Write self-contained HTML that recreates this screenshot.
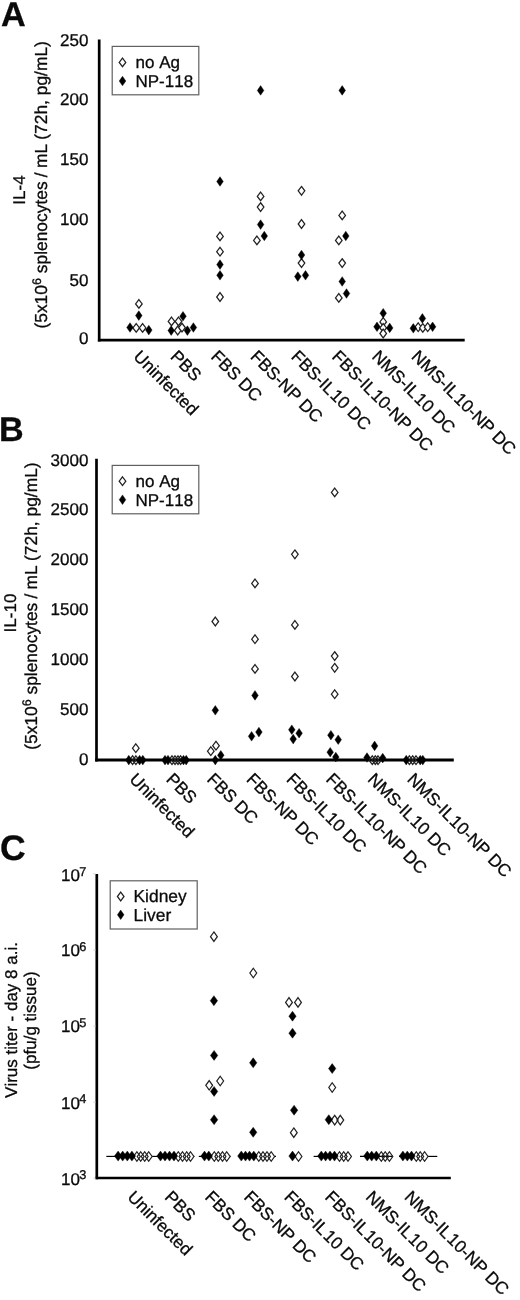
<!DOCTYPE html>
<html><head><meta charset="utf-8"><title>Figure</title>
<style>
html,body{margin:0;padding:0;background:#fff;}
body{width:520px;height:1300px;overflow:hidden;}
svg{display:block;font-family:"Liberation Sans", sans-serif;fill:#111;will-change:transform;text-rendering:geometricPrecision;}
text{font-kerning:none;fill:#0a0a0a;stroke:#0a0a0a;stroke-width:0.3px;stroke-linejoin:round;}
</style></head><body>
<svg width="520" height="1300" viewBox="0 0 520 1300">
<rect width="520" height="1300" fill="#fff"/>
<text transform="translate(0.90,26.00) scale(1.0,1)" font-size="34.2" text-anchor="start" font-weight="bold" >A</text>
<line x1="99.2" y1="39.4" x2="99.2" y2="341.5" stroke="#000" stroke-width="2.7"/>
<line x1="97.9" y1="340.2" x2="464.7" y2="340.2" stroke="#000" stroke-width="2.7"/>
<text transform="translate(88.40,45.60) scale(1.0,1)" font-size="17.0" text-anchor="end" font-weight="normal" >250</text>
<text transform="translate(88.40,105.00) scale(1.0,1)" font-size="17.0" text-anchor="end" font-weight="normal" >200</text>
<text transform="translate(88.40,165.10) scale(1.0,1)" font-size="17.0" text-anchor="end" font-weight="normal" >150</text>
<text transform="translate(88.40,225.10) scale(1.0,1)" font-size="17.0" text-anchor="end" font-weight="normal" >100</text>
<text transform="translate(88.40,285.60) scale(1.0,1)" font-size="17.0" text-anchor="end" font-weight="normal" >50</text>
<text transform="translate(88.40,344.40) scale(1.0,1)" font-size="17.0" text-anchor="end" font-weight="normal" >0</text>
<rect x="112.2" y="46.4" width="86.6" height="48.4" fill="#fff" stroke="#606060" stroke-width="1.2"/>
<polygon points="122.50,58.05 125.80,62.40 122.50,66.75 119.20,62.40" fill="#fff" stroke="#222" stroke-width="1.25"/>
<polygon points="122.50,76.20 125.80,81.00 122.50,85.80 119.20,81.00" fill="#000" stroke="#000" stroke-width="0.4"/>
<text transform="translate(135.50,67.80) scale(1.0,1)" font-size="17.0" text-anchor="start" font-weight="normal" >no Ag</text>
<text transform="translate(135.50,87.10) scale(1.0,1)" font-size="17.0" text-anchor="start" font-weight="normal" >NP-118</text>
<polygon points="138.90,299.55 142.20,303.90 138.90,308.25 135.60,303.90" fill="#fff" stroke="#222" stroke-width="1.25"/>
<polygon points="136.20,323.55 139.50,327.90 136.20,332.25 132.90,327.90" fill="#fff" stroke="#222" stroke-width="1.25"/>
<polygon points="142.60,323.55 145.90,327.90 142.60,332.25 139.30,327.90" fill="#fff" stroke="#222" stroke-width="1.25"/>
<polygon points="171.50,317.05 174.80,321.40 171.50,325.75 168.20,321.40" fill="#fff" stroke="#222" stroke-width="1.25"/>
<polygon points="178.50,317.05 181.80,321.40 178.50,325.75 175.20,321.40" fill="#fff" stroke="#222" stroke-width="1.25"/>
<polygon points="177.70,326.15 181.00,330.50 177.70,334.85 174.40,330.50" fill="#fff" stroke="#222" stroke-width="1.25"/>
<polygon points="182.00,323.25 185.30,327.60 182.00,331.95 178.70,327.60" fill="#fff" stroke="#222" stroke-width="1.25"/>
<polygon points="220.00,232.05 223.30,236.40 220.00,240.75 216.70,236.40" fill="#fff" stroke="#222" stroke-width="1.25"/>
<polygon points="220.00,247.35 223.30,251.70 220.00,256.05 216.70,251.70" fill="#fff" stroke="#222" stroke-width="1.25"/>
<polygon points="220.00,292.65 223.30,297.00 220.00,301.35 216.70,297.00" fill="#fff" stroke="#222" stroke-width="1.25"/>
<polygon points="260.60,192.05 263.90,196.40 260.60,200.75 257.30,196.40" fill="#fff" stroke="#222" stroke-width="1.25"/>
<polygon points="260.60,202.75 263.90,207.10 260.60,211.45 257.30,207.10" fill="#fff" stroke="#222" stroke-width="1.25"/>
<polygon points="256.90,236.05 260.20,240.40 256.90,244.75 253.60,240.40" fill="#fff" stroke="#222" stroke-width="1.25"/>
<polygon points="301.50,186.45 304.80,190.80 301.50,195.15 298.20,190.80" fill="#fff" stroke="#222" stroke-width="1.25"/>
<polygon points="301.50,219.65 304.80,224.00 301.50,228.35 298.20,224.00" fill="#fff" stroke="#222" stroke-width="1.25"/>
<polygon points="301.50,258.75 304.80,263.10 301.50,267.45 298.20,263.10" fill="#fff" stroke="#222" stroke-width="1.25"/>
<polygon points="342.20,211.05 345.50,215.40 342.20,219.75 338.90,215.40" fill="#fff" stroke="#222" stroke-width="1.25"/>
<polygon points="338.80,236.05 342.10,240.40 338.80,244.75 335.50,240.40" fill="#fff" stroke="#222" stroke-width="1.25"/>
<polygon points="342.20,258.75 345.50,263.10 342.20,267.45 338.90,263.10" fill="#fff" stroke="#222" stroke-width="1.25"/>
<polygon points="338.80,293.55 342.10,297.90 338.80,302.25 335.50,297.90" fill="#fff" stroke="#222" stroke-width="1.25"/>
<polygon points="383.20,317.55 386.50,321.90 383.20,326.25 379.90,321.90" fill="#fff" stroke="#222" stroke-width="1.25"/>
<polygon points="383.20,323.55 386.50,327.90 383.20,332.25 379.90,327.90" fill="#fff" stroke="#222" stroke-width="1.25"/>
<polygon points="383.20,329.15 386.50,333.50 383.20,337.85 379.90,333.50" fill="#fff" stroke="#222" stroke-width="1.25"/>
<polygon points="418.20,322.85 421.50,327.20 418.20,331.55 414.90,327.20" fill="#fff" stroke="#222" stroke-width="1.25"/>
<polygon points="422.80,323.55 426.10,327.90 422.80,332.25 419.50,327.90" fill="#fff" stroke="#222" stroke-width="1.25"/>
<polygon points="427.70,322.85 431.00,327.20 427.70,331.55 424.40,327.20" fill="#fff" stroke="#222" stroke-width="1.25"/>
<polygon points="138.80,310.80 142.10,315.60 138.80,320.40 135.50,315.60" fill="#000" stroke="#000" stroke-width="0.4"/>
<polygon points="130.00,322.70 133.30,327.50 130.00,332.30 126.70,327.50" fill="#000" stroke="#000" stroke-width="0.4"/>
<polygon points="148.80,325.30 152.10,330.10 148.80,334.90 145.50,330.10" fill="#000" stroke="#000" stroke-width="0.4"/>
<polygon points="183.00,311.50 186.30,316.30 183.00,321.10 179.70,316.30" fill="#000" stroke="#000" stroke-width="0.4"/>
<polygon points="171.20,325.80 174.50,330.60 171.20,335.40 167.90,330.60" fill="#000" stroke="#000" stroke-width="0.4"/>
<polygon points="187.40,325.80 190.70,330.60 187.40,335.40 184.10,330.60" fill="#000" stroke="#000" stroke-width="0.4"/>
<polygon points="193.40,322.70 196.70,327.50 193.40,332.30 190.10,327.50" fill="#000" stroke="#000" stroke-width="0.4"/>
<polygon points="220.00,176.70 223.30,181.50 220.00,186.30 216.70,181.50" fill="#000" stroke="#000" stroke-width="0.4"/>
<polygon points="220.00,259.80 223.30,264.60 220.00,269.40 216.70,264.60" fill="#000" stroke="#000" stroke-width="0.4"/>
<polygon points="220.00,270.50 223.30,275.30 220.00,280.10 216.70,275.30" fill="#000" stroke="#000" stroke-width="0.4"/>
<polygon points="260.60,85.60 263.90,90.40 260.60,95.20 257.30,90.40" fill="#000" stroke="#000" stroke-width="0.4"/>
<polygon points="260.60,219.80 263.90,224.60 260.60,229.40 257.30,224.60" fill="#000" stroke="#000" stroke-width="0.4"/>
<polygon points="264.30,231.20 267.60,236.00 264.30,240.80 261.00,236.00" fill="#000" stroke="#000" stroke-width="0.4"/>
<polygon points="301.50,250.20 304.80,255.00 301.50,259.80 298.20,255.00" fill="#000" stroke="#000" stroke-width="0.4"/>
<polygon points="297.80,271.80 301.10,276.60 297.80,281.40 294.50,276.60" fill="#000" stroke="#000" stroke-width="0.4"/>
<polygon points="305.50,270.50 308.80,275.30 305.50,280.10 302.20,275.30" fill="#000" stroke="#000" stroke-width="0.4"/>
<polygon points="342.20,85.60 345.50,90.40 342.20,95.20 338.90,90.40" fill="#000" stroke="#000" stroke-width="0.4"/>
<polygon points="345.80,231.20 349.10,236.00 345.80,240.80 342.50,236.00" fill="#000" stroke="#000" stroke-width="0.4"/>
<polygon points="342.20,276.70 345.50,281.50 342.20,286.30 338.90,281.50" fill="#000" stroke="#000" stroke-width="0.4"/>
<polygon points="346.50,288.70 349.80,293.50 346.50,298.30 343.20,293.50" fill="#000" stroke="#000" stroke-width="0.4"/>
<polygon points="383.20,308.40 386.50,313.20 383.20,318.00 379.90,313.20" fill="#000" stroke="#000" stroke-width="0.4"/>
<polygon points="377.00,322.00 380.30,326.80 377.00,331.60 373.70,326.80" fill="#000" stroke="#000" stroke-width="0.4"/>
<polygon points="389.70,323.10 393.00,327.90 389.70,332.70 386.40,327.90" fill="#000" stroke="#000" stroke-width="0.4"/>
<polygon points="422.40,313.60 425.70,318.40 422.40,323.20 419.10,318.40" fill="#000" stroke="#000" stroke-width="0.4"/>
<polygon points="413.30,323.50 416.60,328.30 413.30,333.10 410.00,328.30" fill="#000" stroke="#000" stroke-width="0.4"/>
<polygon points="432.60,322.00 435.90,326.80 432.60,331.60 429.30,326.80" fill="#000" stroke="#000" stroke-width="0.4"/>
<text transform="translate(132.60,357.60) rotate(45) scale(1.0,1)" font-size="17.35" text-anchor="start" font-weight="normal" >Uninfected</text>
<text transform="translate(169.60,357.60) rotate(45) scale(1.0,1)" font-size="17.35" text-anchor="start" font-weight="normal" >PBS</text>
<text transform="translate(210.00,357.60) rotate(45) scale(1.0,1)" font-size="17.35" text-anchor="start" font-weight="normal" >FBS DC</text>
<text transform="translate(249.40,357.60) rotate(45) scale(1.0,1)" font-size="17.35" text-anchor="start" font-weight="normal" >FBS-NP DC</text>
<text transform="translate(290.20,357.60) rotate(45) scale(1.0,1)" font-size="17.35" text-anchor="start" font-weight="normal" >FBS-IL<tspan dx="1.1">10</tspan> DC</text>
<text transform="translate(331.00,357.60) rotate(45) scale(1.0,1)" font-size="17.35" text-anchor="start" font-weight="normal" >FBS-IL<tspan dx="1.1">10</tspan>-NP DC</text>
<text transform="translate(371.00,357.60) rotate(45) scale(1.0,1)" font-size="17.35" text-anchor="start" font-weight="normal" >NMS-IL<tspan dx="1.1">10</tspan> DC</text>
<text transform="translate(410.60,357.60) rotate(45) scale(1.0,1)" font-size="17.35" text-anchor="start" font-weight="normal" >NMS-IL<tspan dx="1.1">10</tspan>-NP DC</text>
<text transform="translate(25.40,190.00) rotate(-90) scale(1.0,1)" font-size="17.0" text-anchor="middle" font-weight="normal" >IL-4</text>
<text transform="translate(47.20,41.10) rotate(-90) scale(1.0,1)" font-size="17.4" text-anchor="end" font-weight="normal" >(5x10<tspan font-size="12.5" dy="-6">6</tspan><tspan dy="6"> splenocytes</tspan><tspan dx="-0.6"> /</tspan><tspan dx="-0.6"> mL</tspan><tspan dx="-0.6"> (72h, pg/mL)</tspan></text>
<text transform="translate(-1.00,441.20) scale(1.0,1)" font-size="34.2" text-anchor="start" font-weight="bold" >B</text>
<line x1="96.5" y1="458.8" x2="96.5" y2="761.5" stroke="#000" stroke-width="2.7"/>
<line x1="95.2" y1="760" x2="453.8" y2="760" stroke="#000" stroke-width="3"/>
<text transform="translate(88.40,465.70) scale(1.0,1)" font-size="17.0" text-anchor="end" font-weight="normal" >3000</text>
<text transform="translate(88.40,515.10) scale(1.0,1)" font-size="17.0" text-anchor="end" font-weight="normal" >2500</text>
<text transform="translate(88.40,565.10) scale(1.0,1)" font-size="17.0" text-anchor="end" font-weight="normal" >2000</text>
<text transform="translate(88.40,615.10) scale(1.0,1)" font-size="17.0" text-anchor="end" font-weight="normal" >1500</text>
<text transform="translate(88.40,665.10) scale(1.0,1)" font-size="17.0" text-anchor="end" font-weight="normal" >1000</text>
<text transform="translate(88.40,715.10) scale(1.0,1)" font-size="17.0" text-anchor="end" font-weight="normal" >500</text>
<text transform="translate(88.40,765.10) scale(1.0,1)" font-size="17.0" text-anchor="end" font-weight="normal" >0</text>
<rect x="112.2" y="465.4" width="86.6" height="48.4" fill="#fff" stroke="#606060" stroke-width="1.2"/>
<polygon points="122.50,476.85 125.80,481.20 122.50,485.55 119.20,481.20" fill="#fff" stroke="#222" stroke-width="1.25"/>
<polygon points="122.50,494.90 125.80,499.70 122.50,504.50 119.20,499.70" fill="#000" stroke="#000" stroke-width="0.4"/>
<text transform="translate(135.50,486.60) scale(1.0,1)" font-size="17.0" text-anchor="start" font-weight="normal" >no Ag</text>
<text transform="translate(135.50,505.80) scale(1.0,1)" font-size="17.0" text-anchor="start" font-weight="normal" >NP-118</text>
<polygon points="135.80,743.85 139.10,748.20 135.80,752.55 132.50,748.20" fill="none" stroke="#222" stroke-width="1.25"/>
<polygon points="132.60,755.85 135.90,760.20 132.60,764.55 129.30,760.20" fill="none" stroke="#222" stroke-width="1.25"/>
<polygon points="135.90,755.85 139.20,760.20 135.90,764.55 132.60,760.20" fill="none" stroke="#222" stroke-width="1.25"/>
<polygon points="172.00,755.85 175.30,760.20 172.00,764.55 168.70,760.20" fill="none" stroke="#222" stroke-width="1.25"/>
<polygon points="175.00,755.85 178.30,760.20 175.00,764.55 171.70,760.20" fill="none" stroke="#222" stroke-width="1.25"/>
<polygon points="178.00,755.85 181.30,760.20 178.00,764.55 174.70,760.20" fill="none" stroke="#222" stroke-width="1.25"/>
<polygon points="180.60,755.85 183.90,760.20 180.60,764.55 177.30,760.20" fill="none" stroke="#222" stroke-width="1.25"/>
<polygon points="215.30,617.15 218.60,621.50 215.30,625.85 212.00,621.50" fill="none" stroke="#222" stroke-width="1.25"/>
<polygon points="210.80,746.85 214.10,751.20 210.80,755.55 207.50,751.20" fill="none" stroke="#222" stroke-width="1.25"/>
<polygon points="216.00,741.35 219.30,745.70 216.00,750.05 212.70,745.70" fill="none" stroke="#222" stroke-width="1.25"/>
<polygon points="255.00,579.05 258.30,583.40 255.00,587.75 251.70,583.40" fill="none" stroke="#222" stroke-width="1.25"/>
<polygon points="255.00,634.85 258.30,639.20 255.00,643.55 251.70,639.20" fill="none" stroke="#222" stroke-width="1.25"/>
<polygon points="255.00,664.55 258.30,668.90 255.00,673.25 251.70,668.90" fill="none" stroke="#222" stroke-width="1.25"/>
<polygon points="294.90,549.95 298.20,554.30 294.90,558.65 291.60,554.30" fill="none" stroke="#222" stroke-width="1.25"/>
<polygon points="294.90,620.55 298.20,624.90 294.90,629.25 291.60,624.90" fill="none" stroke="#222" stroke-width="1.25"/>
<polygon points="294.90,672.15 298.20,676.50 294.90,680.85 291.60,676.50" fill="none" stroke="#222" stroke-width="1.25"/>
<polygon points="334.70,488.05 338.00,492.40 334.70,496.75 331.40,492.40" fill="none" stroke="#222" stroke-width="1.25"/>
<polygon points="334.70,651.75 338.00,656.10 334.70,660.45 331.40,656.10" fill="none" stroke="#222" stroke-width="1.25"/>
<polygon points="334.70,663.45 338.00,667.80 334.70,672.15 331.40,667.80" fill="none" stroke="#222" stroke-width="1.25"/>
<polygon points="334.70,689.85 338.00,694.20 334.70,698.55 331.40,694.20" fill="none" stroke="#222" stroke-width="1.25"/>
<polygon points="372.30,755.85 375.60,760.20 372.30,764.55 369.00,760.20" fill="none" stroke="#222" stroke-width="1.25"/>
<polygon points="375.30,755.85 378.60,760.20 375.30,764.55 372.00,760.20" fill="none" stroke="#222" stroke-width="1.25"/>
<polygon points="378.00,755.85 381.30,760.20 378.00,764.55 374.70,760.20" fill="none" stroke="#222" stroke-width="1.25"/>
<polygon points="409.40,755.85 412.70,760.20 409.40,764.55 406.10,760.20" fill="none" stroke="#222" stroke-width="1.25"/>
<polygon points="412.70,755.85 416.00,760.20 412.70,764.55 409.40,760.20" fill="none" stroke="#222" stroke-width="1.25"/>
<polygon points="416.00,755.85 419.30,760.20 416.00,764.55 412.70,760.20" fill="none" stroke="#222" stroke-width="1.25"/>
<polygon points="128.80,755.30 132.10,760.10 128.80,764.90 125.50,760.10" fill="#000" stroke="#000" stroke-width="0.4"/>
<polygon points="139.60,755.30 142.90,760.10 139.60,764.90 136.30,760.10" fill="#000" stroke="#000" stroke-width="0.4"/>
<polygon points="142.80,755.30 146.10,760.10 142.80,764.90 139.50,760.10" fill="#000" stroke="#000" stroke-width="0.4"/>
<polygon points="165.00,755.30 168.30,760.10 165.00,764.90 161.70,760.10" fill="#000" stroke="#000" stroke-width="0.4"/>
<polygon points="168.00,755.30 171.30,760.10 168.00,764.90 164.70,760.10" fill="#000" stroke="#000" stroke-width="0.4"/>
<polygon points="183.50,755.30 186.80,760.10 183.50,764.90 180.20,760.10" fill="#000" stroke="#000" stroke-width="0.4"/>
<polygon points="186.20,755.30 189.50,760.10 186.20,764.90 182.90,760.10" fill="#000" stroke="#000" stroke-width="0.4"/>
<polygon points="215.30,705.50 218.60,710.30 215.30,715.10 212.00,710.30" fill="#000" stroke="#000" stroke-width="0.4"/>
<polygon points="220.80,750.50 224.10,755.30 220.80,760.10 217.50,755.30" fill="#000" stroke="#000" stroke-width="0.4"/>
<polygon points="215.30,755.30 218.60,760.10 215.30,764.90 212.00,760.10" fill="#000" stroke="#000" stroke-width="0.4"/>
<polygon points="255.00,690.60 258.30,695.40 255.00,700.20 251.70,695.40" fill="#000" stroke="#000" stroke-width="0.4"/>
<polygon points="251.60,731.50 254.90,736.30 251.60,741.10 248.30,736.30" fill="#000" stroke="#000" stroke-width="0.4"/>
<polygon points="258.90,727.30 262.20,732.10 258.90,736.90 255.60,732.10" fill="#000" stroke="#000" stroke-width="0.4"/>
<polygon points="291.80,724.90 295.10,729.70 291.80,734.50 288.50,729.70" fill="#000" stroke="#000" stroke-width="0.4"/>
<polygon points="299.10,728.40 302.40,733.20 299.10,738.00 295.80,733.20" fill="#000" stroke="#000" stroke-width="0.4"/>
<polygon points="293.20,734.30 296.50,739.10 293.20,743.90 289.90,739.10" fill="#000" stroke="#000" stroke-width="0.4"/>
<polygon points="330.90,730.40 334.20,735.20 330.90,740.00 327.60,735.20" fill="#000" stroke="#000" stroke-width="0.4"/>
<polygon points="338.20,734.90 341.50,739.70 338.20,744.50 334.90,739.70" fill="#000" stroke="#000" stroke-width="0.4"/>
<polygon points="330.20,747.40 333.50,752.20 330.20,757.00 326.90,752.20" fill="#000" stroke="#000" stroke-width="0.4"/>
<polygon points="335.80,752.30 339.10,757.10 335.80,761.90 332.50,757.10" fill="#000" stroke="#000" stroke-width="0.4"/>
<polygon points="374.60,741.10 377.90,745.90 374.60,750.70 371.30,745.90" fill="#000" stroke="#000" stroke-width="0.4"/>
<polygon points="367.00,752.70 370.30,757.50 367.00,762.30 363.70,757.50" fill="#000" stroke="#000" stroke-width="0.4"/>
<polygon points="382.70,753.30 386.00,758.10 382.70,762.90 379.40,758.10" fill="#000" stroke="#000" stroke-width="0.4"/>
<polygon points="406.20,755.30 409.50,760.10 406.20,764.90 402.90,760.10" fill="#000" stroke="#000" stroke-width="0.4"/>
<polygon points="420.20,755.30 423.50,760.10 420.20,764.90 416.90,760.10" fill="#000" stroke="#000" stroke-width="0.4"/>
<polygon points="422.80,755.30 426.10,760.10 422.80,764.90 419.50,760.10" fill="#000" stroke="#000" stroke-width="0.4"/>
<text transform="translate(128.60,780.20) rotate(45) scale(1.0,1)" font-size="17.35" text-anchor="start" font-weight="normal" >Uninfected</text>
<text transform="translate(165.20,780.20) rotate(45) scale(1.0,1)" font-size="17.35" text-anchor="start" font-weight="normal" >PBS</text>
<text transform="translate(206.00,780.20) rotate(45) scale(1.0,1)" font-size="17.35" text-anchor="start" font-weight="normal" >FBS DC</text>
<text transform="translate(245.60,780.20) rotate(45) scale(1.0,1)" font-size="17.35" text-anchor="start" font-weight="normal" >FBS-NP DC</text>
<text transform="translate(285.60,780.20) rotate(45) scale(1.0,1)" font-size="17.35" text-anchor="start" font-weight="normal" >FBS-IL<tspan dx="1.1">10</tspan> DC</text>
<text transform="translate(325.00,780.20) rotate(45) scale(1.0,1)" font-size="17.35" text-anchor="start" font-weight="normal" >FBS-IL<tspan dx="1.1">10</tspan>-NP DC</text>
<text transform="translate(366.80,780.20) rotate(45) scale(1.0,1)" font-size="17.35" text-anchor="start" font-weight="normal" >NMS-IL<tspan dx="1.1">10</tspan> DC</text>
<text transform="translate(406.20,780.20) rotate(45) scale(1.0,1)" font-size="17.35" text-anchor="start" font-weight="normal" >NMS-IL<tspan dx="1.1">10</tspan>-NP DC</text>
<text transform="translate(16.30,613.00) rotate(-90) scale(1.0,1)" font-size="17.0" text-anchor="middle" font-weight="normal" >IL-10</text>
<text transform="translate(37.40,462.40) rotate(-90) scale(1.0,1)" font-size="17.4" text-anchor="end" font-weight="normal" >(5x10<tspan font-size="12.5" dy="-6">6</tspan><tspan dy="6"> splenocytes</tspan><tspan dx="-0.6"> /</tspan><tspan dx="-0.6"> mL</tspan><tspan dx="-0.6"> (72h, pg/mL)</tspan></text>
<text transform="translate(0.10,859.80) scale(1.0,1)" font-size="35.5" text-anchor="start" font-weight="bold" >C</text>
<line x1="96.8" y1="874" x2="96.8" y2="1179.3" stroke="#000" stroke-width="2.7"/>
<line x1="95.5" y1="1178" x2="450.8" y2="1178" stroke="#000" stroke-width="2.7"/>
<text transform="translate(79.90,881.30) scale(1.0,1)" font-size="17.0" text-anchor="end" font-weight="normal" >10</text>
<text transform="translate(79.20,875.70) scale(1.0,1)" font-size="12.8" text-anchor="start" font-weight="normal" >7</text>
<line x1="93.5" y1="873.9" x2="95.6" y2="873.9" stroke="#ccc" stroke-width="1"/>
<text transform="translate(79.90,956.30) scale(1.0,1)" font-size="17.0" text-anchor="end" font-weight="normal" >10</text>
<text transform="translate(79.20,950.70) scale(1.0,1)" font-size="12.8" text-anchor="start" font-weight="normal" >6</text>
<line x1="93.5" y1="950.0" x2="95.6" y2="950.0" stroke="#ccc" stroke-width="1"/>
<text transform="translate(79.90,1032.40) scale(1.0,1)" font-size="17.0" text-anchor="end" font-weight="normal" >10</text>
<text transform="translate(79.20,1026.80) scale(1.0,1)" font-size="12.8" text-anchor="start" font-weight="normal" >5</text>
<line x1="93.5" y1="1026.1" x2="95.6" y2="1026.1" stroke="#ccc" stroke-width="1"/>
<text transform="translate(79.90,1108.50) scale(1.0,1)" font-size="17.0" text-anchor="end" font-weight="normal" >10</text>
<text transform="translate(79.20,1102.90) scale(1.0,1)" font-size="12.8" text-anchor="start" font-weight="normal" >4</text>
<line x1="93.5" y1="1102.2" x2="95.6" y2="1102.2" stroke="#ccc" stroke-width="1"/>
<text transform="translate(79.90,1184.60) scale(1.0,1)" font-size="17.0" text-anchor="end" font-weight="normal" >10</text>
<text transform="translate(79.20,1179.00) scale(1.0,1)" font-size="12.8" text-anchor="start" font-weight="normal" >3</text>
<line x1="93.5" y1="1178.3" x2="95.6" y2="1178.3" stroke="#ccc" stroke-width="1"/>
<rect x="110.2" y="880.8" width="87" height="48.2" fill="#fff" stroke="#606060" stroke-width="1.2"/>
<polygon points="120.70,892.15 124.00,896.50 120.70,900.85 117.40,896.50" fill="#fff" stroke="#222" stroke-width="1.25"/>
<polygon points="120.70,910.00 124.00,914.80 120.70,919.60 117.40,914.80" fill="#000" stroke="#000" stroke-width="0.4"/>
<text transform="translate(133.50,901.90) scale(1.0,1)" font-size="17.4" text-anchor="start" font-weight="normal" >Kidney</text>
<text transform="translate(133.50,920.90) scale(1.0,1)" font-size="17.4" text-anchor="start" font-weight="normal" >Liver</text>
<line x1="106.3" y1="1156.3999999999999" x2="134" y2="1156.3999999999999" stroke="#000" stroke-width="1.15"/>
<line x1="152" y1="1156.3999999999999" x2="160" y2="1156.3999999999999" stroke="#000" stroke-width="1.15"/>
<line x1="193.8" y1="1156.3999999999999" x2="194.3" y2="1156.3999999999999" stroke="#000" stroke-width="1.15"/>
<line x1="198.8" y1="1156.3999999999999" x2="206" y2="1156.3999999999999" stroke="#000" stroke-width="1.15"/>
<line x1="230" y1="1156.3999999999999" x2="230.6" y2="1156.3999999999999" stroke="#000" stroke-width="1.15"/>
<line x1="274.5" y1="1156.3999999999999" x2="276" y2="1156.3999999999999" stroke="#000" stroke-width="1.15"/>
<line x1="313.6" y1="1156.3999999999999" x2="323" y2="1156.3999999999999" stroke="#000" stroke-width="1.15"/>
<line x1="351.3" y1="1156.3999999999999" x2="351.6" y2="1156.3999999999999" stroke="#000" stroke-width="1.15"/>
<line x1="360" y1="1156.3999999999999" x2="393" y2="1156.3999999999999" stroke="#000" stroke-width="1.15"/>
<line x1="399" y1="1156.3999999999999" x2="404" y2="1156.3999999999999" stroke="#000" stroke-width="1.15"/>
<line x1="428" y1="1156.3999999999999" x2="437.3" y2="1156.3999999999999" stroke="#000" stroke-width="1.15"/>
<polygon points="136.90,1151.75 140.30,1156.50 136.90,1161.25 133.50,1156.50" fill="none" stroke="#222" stroke-width="1.25"/>
<polygon points="140.70,1151.75 144.10,1156.50 140.70,1161.25 137.30,1156.50" fill="none" stroke="#222" stroke-width="1.25"/>
<polygon points="144.70,1151.75 148.10,1156.50 144.70,1161.25 141.30,1156.50" fill="none" stroke="#222" stroke-width="1.25"/>
<polygon points="148.70,1151.75 152.10,1156.50 148.70,1161.25 145.30,1156.50" fill="none" stroke="#222" stroke-width="1.25"/>
<polygon points="178.30,1151.75 181.70,1156.50 178.30,1161.25 174.90,1156.50" fill="none" stroke="#222" stroke-width="1.25"/>
<polygon points="182.50,1151.75 185.90,1156.50 182.50,1161.25 179.10,1156.50" fill="none" stroke="#222" stroke-width="1.25"/>
<polygon points="186.70,1151.75 190.10,1156.50 186.70,1161.25 183.30,1156.50" fill="none" stroke="#222" stroke-width="1.25"/>
<polygon points="190.50,1151.75 193.90,1156.50 190.50,1161.25 187.10,1156.50" fill="none" stroke="#222" stroke-width="1.25"/>
<polygon points="214.30,1151.75 217.70,1156.50 214.30,1161.25 210.90,1156.50" fill="none" stroke="#222" stroke-width="1.25"/>
<polygon points="218.30,1151.75 221.70,1156.50 218.30,1161.25 214.90,1156.50" fill="none" stroke="#222" stroke-width="1.25"/>
<polygon points="222.50,1151.75 225.90,1156.50 222.50,1161.25 219.10,1156.50" fill="none" stroke="#222" stroke-width="1.25"/>
<polygon points="226.70,1151.75 230.10,1156.50 226.70,1161.25 223.30,1156.50" fill="none" stroke="#222" stroke-width="1.25"/>
<polygon points="258.80,1151.75 262.20,1156.50 258.80,1161.25 255.40,1156.50" fill="none" stroke="#222" stroke-width="1.25"/>
<polygon points="263.00,1151.75 266.40,1156.50 263.00,1161.25 259.60,1156.50" fill="none" stroke="#222" stroke-width="1.25"/>
<polygon points="267.00,1151.75 270.40,1156.50 267.00,1161.25 263.60,1156.50" fill="none" stroke="#222" stroke-width="1.25"/>
<polygon points="271.20,1151.75 274.60,1156.50 271.20,1161.25 267.80,1156.50" fill="none" stroke="#222" stroke-width="1.25"/>
<polygon points="298.50,1151.75 301.90,1156.50 298.50,1161.25 295.10,1156.50" fill="none" stroke="#222" stroke-width="1.25"/>
<polygon points="339.50,1151.75 342.90,1156.50 339.50,1161.25 336.10,1156.50" fill="none" stroke="#222" stroke-width="1.25"/>
<polygon points="343.70,1151.75 347.10,1156.50 343.70,1161.25 340.30,1156.50" fill="none" stroke="#222" stroke-width="1.25"/>
<polygon points="348.00,1151.75 351.40,1156.50 348.00,1161.25 344.60,1156.50" fill="none" stroke="#222" stroke-width="1.25"/>
<polygon points="381.30,1151.75 384.70,1156.50 381.30,1161.25 377.90,1156.50" fill="none" stroke="#222" stroke-width="1.25"/>
<polygon points="385.20,1151.75 388.60,1156.50 385.20,1161.25 381.80,1156.50" fill="none" stroke="#222" stroke-width="1.25"/>
<polygon points="389.40,1151.75 392.80,1156.50 389.40,1161.25 386.00,1156.50" fill="none" stroke="#222" stroke-width="1.25"/>
<polygon points="416.30,1151.75 419.70,1156.50 416.30,1161.25 412.90,1156.50" fill="none" stroke="#222" stroke-width="1.25"/>
<polygon points="420.20,1151.75 423.60,1156.50 420.20,1161.25 416.80,1156.50" fill="none" stroke="#222" stroke-width="1.25"/>
<polygon points="424.60,1151.75 428.00,1156.50 424.60,1161.25 421.20,1156.50" fill="none" stroke="#222" stroke-width="1.25"/>
<polygon points="213.90,931.95 217.30,936.70 213.90,941.45 210.50,936.70" fill="none" stroke="#222" stroke-width="1.25"/>
<polygon points="209.20,1080.55 212.60,1085.30 209.20,1090.05 205.80,1085.30" fill="none" stroke="#222" stroke-width="1.25"/>
<polygon points="220.20,1076.25 223.60,1081.00 220.20,1085.75 216.80,1081.00" fill="none" stroke="#222" stroke-width="1.25"/>
<polygon points="253.30,968.25 256.70,973.00 253.30,977.75 249.90,973.00" fill="none" stroke="#222" stroke-width="1.25"/>
<polygon points="289.00,997.65 292.40,1002.40 289.00,1007.15 285.60,1002.40" fill="none" stroke="#222" stroke-width="1.25"/>
<polygon points="298.00,997.65 301.40,1002.40 298.00,1007.15 294.60,1002.40" fill="none" stroke="#222" stroke-width="1.25"/>
<polygon points="293.80,1127.95 297.20,1132.70 293.80,1137.45 290.40,1132.70" fill="none" stroke="#222" stroke-width="1.25"/>
<polygon points="332.20,1082.75 335.60,1087.50 332.20,1092.25 328.80,1087.50" fill="none" stroke="#222" stroke-width="1.25"/>
<polygon points="334.70,1115.35 338.10,1120.10 334.70,1124.85 331.30,1120.10" fill="none" stroke="#222" stroke-width="1.25"/>
<polygon points="340.30,1115.35 343.70,1120.10 340.30,1124.85 336.90,1120.10" fill="none" stroke="#222" stroke-width="1.25"/>
<polygon points="118.10,1151.10 121.80,1156.10 118.10,1161.10 114.40,1156.10" fill="#000" stroke="#000" stroke-width="0.4"/>
<polygon points="122.70,1151.10 126.40,1156.10 122.70,1161.10 119.00,1156.10" fill="#000" stroke="#000" stroke-width="0.4"/>
<polygon points="127.30,1151.10 131.00,1156.10 127.30,1161.10 123.60,1156.10" fill="#000" stroke="#000" stroke-width="0.4"/>
<polygon points="131.90,1151.10 135.60,1156.10 131.90,1161.10 128.20,1156.10" fill="#000" stroke="#000" stroke-width="0.4"/>
<polygon points="160.50,1151.10 164.20,1156.10 160.50,1161.10 156.80,1156.10" fill="#000" stroke="#000" stroke-width="0.4"/>
<polygon points="165.00,1151.10 168.70,1156.10 165.00,1161.10 161.30,1156.10" fill="#000" stroke="#000" stroke-width="0.4"/>
<polygon points="169.50,1151.10 173.20,1156.10 169.50,1161.10 165.80,1156.10" fill="#000" stroke="#000" stroke-width="0.4"/>
<polygon points="174.00,1151.10 177.70,1156.10 174.00,1161.10 170.30,1156.10" fill="#000" stroke="#000" stroke-width="0.4"/>
<polygon points="204.50,1151.10 208.20,1156.10 204.50,1161.10 200.80,1156.10" fill="#000" stroke="#000" stroke-width="0.4"/>
<polygon points="208.80,1151.10 212.50,1156.10 208.80,1161.10 205.10,1156.10" fill="#000" stroke="#000" stroke-width="0.4"/>
<polygon points="241.30,1151.10 245.00,1156.10 241.30,1161.10 237.60,1156.10" fill="#000" stroke="#000" stroke-width="0.4"/>
<polygon points="245.50,1151.10 249.20,1156.10 245.50,1161.10 241.80,1156.10" fill="#000" stroke="#000" stroke-width="0.4"/>
<polygon points="249.50,1151.10 253.20,1156.10 249.50,1161.10 245.80,1156.10" fill="#000" stroke="#000" stroke-width="0.4"/>
<polygon points="253.80,1151.10 257.50,1156.10 253.80,1161.10 250.10,1156.10" fill="#000" stroke="#000" stroke-width="0.4"/>
<polygon points="292.50,1151.10 296.20,1156.10 292.50,1161.10 288.80,1156.10" fill="#000" stroke="#000" stroke-width="0.4"/>
<polygon points="321.30,1151.10 325.00,1156.10 321.30,1161.10 317.60,1156.10" fill="#000" stroke="#000" stroke-width="0.4"/>
<polygon points="325.60,1151.10 329.30,1156.10 325.60,1161.10 321.90,1156.10" fill="#000" stroke="#000" stroke-width="0.4"/>
<polygon points="330.00,1151.10 333.70,1156.10 330.00,1161.10 326.30,1156.10" fill="#000" stroke="#000" stroke-width="0.4"/>
<polygon points="334.50,1151.10 338.20,1156.10 334.50,1161.10 330.80,1156.10" fill="#000" stroke="#000" stroke-width="0.4"/>
<polygon points="367.30,1151.10 371.00,1156.10 367.30,1161.10 363.60,1156.10" fill="#000" stroke="#000" stroke-width="0.4"/>
<polygon points="371.70,1151.10 375.40,1156.10 371.70,1161.10 368.00,1156.10" fill="#000" stroke="#000" stroke-width="0.4"/>
<polygon points="376.30,1151.10 380.00,1156.10 376.30,1161.10 372.60,1156.10" fill="#000" stroke="#000" stroke-width="0.4"/>
<polygon points="402.90,1151.10 406.60,1156.10 402.90,1161.10 399.20,1156.10" fill="#000" stroke="#000" stroke-width="0.4"/>
<polygon points="407.30,1151.10 411.00,1156.10 407.30,1161.10 403.60,1156.10" fill="#000" stroke="#000" stroke-width="0.4"/>
<polygon points="411.50,1151.10 415.20,1156.10 411.50,1161.10 407.80,1156.10" fill="#000" stroke="#000" stroke-width="0.4"/>
<polygon points="213.90,995.70 217.60,1000.70 213.90,1005.70 210.20,1000.70" fill="#000" stroke="#000" stroke-width="0.4"/>
<polygon points="214.10,1050.40 217.80,1055.40 214.10,1060.40 210.40,1055.40" fill="#000" stroke="#000" stroke-width="0.4"/>
<polygon points="214.10,1086.40 217.80,1091.40 214.10,1096.40 210.40,1091.40" fill="#000" stroke="#000" stroke-width="0.4"/>
<polygon points="214.10,1114.70 217.80,1119.70 214.10,1124.70 210.40,1119.70" fill="#000" stroke="#000" stroke-width="0.4"/>
<polygon points="253.20,1057.80 256.90,1062.80 253.20,1067.80 249.50,1062.80" fill="#000" stroke="#000" stroke-width="0.4"/>
<polygon points="253.20,1127.30 256.90,1132.30 253.20,1137.30 249.50,1132.30" fill="#000" stroke="#000" stroke-width="0.4"/>
<polygon points="292.50,1011.20 296.20,1016.20 292.50,1021.20 288.80,1016.20" fill="#000" stroke="#000" stroke-width="0.4"/>
<polygon points="292.50,1028.20 296.20,1033.20 292.50,1038.20 288.80,1033.20" fill="#000" stroke="#000" stroke-width="0.4"/>
<polygon points="294.10,1105.20 297.80,1110.20 294.10,1115.20 290.40,1110.20" fill="#000" stroke="#000" stroke-width="0.4"/>
<polygon points="332.20,1063.60 335.90,1068.60 332.20,1073.60 328.50,1068.60" fill="#000" stroke="#000" stroke-width="0.4"/>
<polygon points="328.80,1114.70 332.50,1119.70 328.80,1124.70 325.10,1119.70" fill="#000" stroke="#000" stroke-width="0.4"/>
<text transform="translate(126.60,1198.00) rotate(45) scale(1.0,1)" font-size="17.35" text-anchor="start" font-weight="normal" >Uninfected</text>
<text transform="translate(163.80,1198.00) rotate(45) scale(1.0,1)" font-size="17.35" text-anchor="start" font-weight="normal" >PBS</text>
<text transform="translate(204.00,1198.00) rotate(45) scale(1.0,1)" font-size="17.35" text-anchor="start" font-weight="normal" >FBS DC</text>
<text transform="translate(243.00,1198.00) rotate(45) scale(1.0,1)" font-size="17.35" text-anchor="start" font-weight="normal" >FBS-NP DC</text>
<text transform="translate(283.20,1198.00) rotate(45) scale(1.0,1)" font-size="17.35" text-anchor="start" font-weight="normal" >FBS-IL<tspan dx="1.1">10</tspan> DC</text>
<text transform="translate(324.00,1198.00) rotate(45) scale(1.0,1)" font-size="17.35" text-anchor="start" font-weight="normal" >FBS-IL<tspan dx="1.1">10</tspan>-NP DC</text>
<text transform="translate(364.80,1198.00) rotate(45) scale(1.0,1)" font-size="17.35" text-anchor="start" font-weight="normal" >NMS-IL<tspan dx="1.1">10</tspan> DC</text>
<text transform="translate(403.60,1198.00) rotate(45) scale(1.0,1)" font-size="17.35" text-anchor="start" font-weight="normal" >NMS-IL<tspan dx="1.1">10</tspan>-NP DC</text>
<text transform="translate(16.60,1020.00) rotate(-90) scale(1.0,1)" font-size="17.0" text-anchor="middle" font-weight="normal" >Virus titer - day 8 a.i.</text>
<text transform="translate(36.10,1020.50) rotate(-90) scale(1.0,1)" font-size="17" text-anchor="middle" font-weight="normal" >(pfu/g tissue)</text>
</svg>
</body></html>
